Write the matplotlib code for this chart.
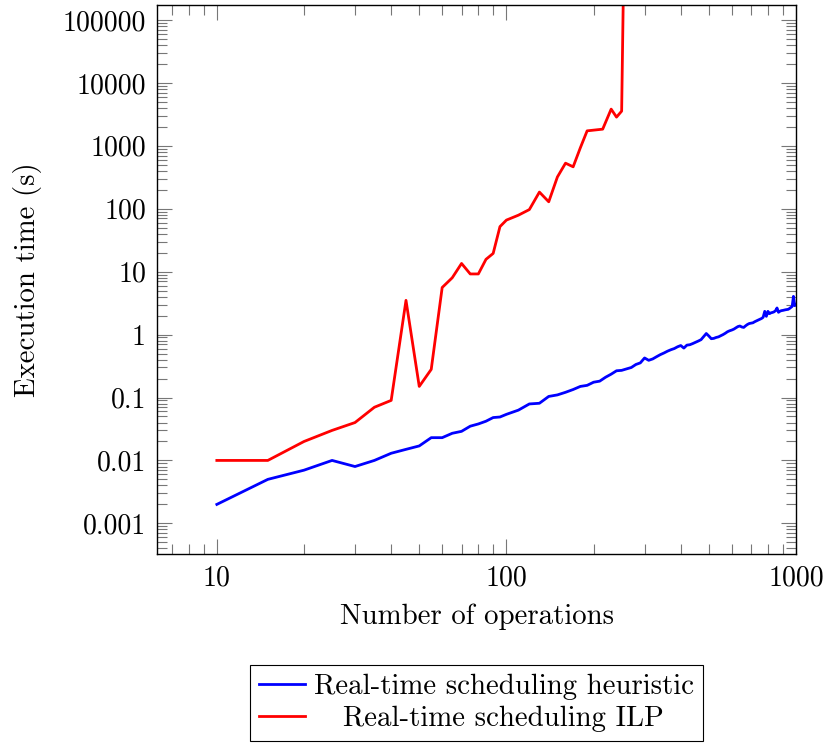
import matplotlib

matplotlib.use("Agg")
import matplotlib.pyplot as plt
import numpy as np
from matplotlib.ticker import FixedLocator, LogLocator, NullFormatter

plt.rcParams["font.family"] = "serif"
plt.rcParams["font.serif"] = ["cmr10", "DejaVu Serif"]
plt.rcParams["axes.formatter.use_mathtext"] = True

# heuristic: number of operations vs execution time (s)
heur_ops = [10, 15, 20, 25, 30, 35, 40, 45, 50, 55, 60, 65, 70, 75, 80, 85, 90, 95,
            100, 110, 120, 130, 140, 150, 160, 170, 180, 190, 200, 210, 220, 230,
            240, 250, 260, 270, 280, 290, 300, 310, 320, 330, 340, 350, 360, 370,
            380, 390, 400, 410, 420, 430, 440, 450, 460, 470, 480, 490, 500, 510,
            520, 530, 540, 550, 560, 570, 580, 590, 600, 610, 620, 630, 640, 650,
            660, 670, 680, 690, 700, 710, 720, 730, 740, 750, 760, 770, 780, 790,
            800, 810, 820, 830, 840, 850, 860, 870, 880, 890, 900, 910, 920, 930,
            940, 950, 960, 970, 980, 990, 1000]
heur_time = [0.002, 0.005, 0.007, 0.010, 0.008, 0.010, 0.013, 0.015, 0.017, 0.023,
             0.023, 0.027, 0.029, 0.035, 0.038, 0.042, 0.048, 0.049,
             0.054, 0.063, 0.079, 0.081, 0.104, 0.110, 0.121, 0.134, 0.150, 0.156,
             0.175, 0.182, 0.210, 0.235, 0.266, 0.270, 0.285, 0.300, 0.335, 0.355,
             0.425, 0.390, 0.410, 0.445, 0.480, 0.510, 0.545, 0.575, 0.600, 0.640,
             0.670, 0.610, 0.680, 0.690, 0.720, 0.755, 0.790, 0.830, 0.930, 1.040,
             0.950, 0.860, 0.870, 0.900, 0.920, 0.960, 1.000, 1.050, 1.110, 1.150,
             1.180, 1.220, 1.280, 1.340, 1.370, 1.320, 1.300, 1.380, 1.450, 1.500,
             1.520, 1.540, 1.600, 1.650, 1.700, 1.750, 1.800, 1.880, 2.340, 1.950,
             2.340, 2.150, 2.220, 2.250, 2.300, 2.400, 2.650, 2.260, 2.350, 2.400,
             2.420, 2.450, 2.480, 2.500, 2.520, 2.600, 2.700, 2.800, 4.050, 2.880,
             3.000]

# ILP: blows up after ~250 operations
ilp_ops = [10, 15, 20, 25, 30, 35, 40, 45, 50, 55, 60, 65, 70, 75, 80, 85, 90, 95,
           100, 110, 120, 130, 140, 150, 160, 170, 180, 190, 215, 230, 240, 250, 260]
ilp_time = [0.01, 0.01, 0.02, 0.03, 0.04, 0.07, 0.09, 3.5, 0.15, 0.28, 5.6, 8.0,
            13.5, 9.2, 9.2, 15.7, 19.5, 52, 66, 79, 97, 184, 129, 320, 530, 464,
            930, 1730, 1840, 3830, 2860, 3560, 1e9]

yticks = [1e-3, 1e-2, 1e-1, 1, 10, 100, 1000, 1e4, 1e5]
ytick_labels = ["0.001", "0.01", "0.1", "1", "10", "100", "1000", "10000", "100000"]
xticks = [10, 100, 1000]
xtick_labels = ["10", "100", "1000"]

fig = plt.figure(figsize=(8.27, 7.47), dpi=100)
ax = fig.add_axes([0.190, 0.2584, 0.7725, 0.7349])

ax.plot(heur_ops, heur_time, color="#0000ff", lw=2.0, label="Real-time scheduling heuristic")
ax.plot(ilp_ops, ilp_time, color="#ff0000", lw=2.0, label="   Real-time scheduling ILP")

ax.set_xscale("log")
ax.set_yscale("log")
ax.set_xlim(6.22, 1000)
ax.set_ylim(3.26e-4, 1.73e5)

ax.yaxis.set_major_locator(FixedLocator(yticks))
ax.set_yticklabels(ytick_labels)
ax.yaxis.set_minor_locator(LogLocator(base=10, subs=np.arange(2, 10), numticks=100))
ax.yaxis.set_minor_formatter(NullFormatter())
ax.xaxis.set_major_locator(FixedLocator(xticks))
ax.set_xticklabels(xtick_labels)
ax.xaxis.set_minor_locator(LogLocator(base=10, subs=np.arange(2, 10), numticks=100))
ax.xaxis.set_minor_formatter(NullFormatter())

ax.tick_params(which="both", direction="in", top=True, right=True,
               color="#777777", labelsize=20, pad=8)
ax.tick_params(which="major", length=11, width=0.8)
ax.tick_params(which="minor", length=7, width=0.8)
for s in ax.spines.values():
    s.set_linewidth(1.0)

ax.set_xlabel("Number of operations", fontsize=20.8, labelpad=8.5)
ax.set_ylabel("Execution time (s)", fontsize=20.8, labelpad=15)

leg = ax.legend(loc="upper center", bbox_to_anchor=(0.5, -0.202), borderaxespad=0,
                fontsize=20.8, frameon=True, fancybox=False, framealpha=1,
                edgecolor="black", handlelength=1.6, handletextpad=0.3,
                labelspacing=0.2, borderpad=0.3)
leg.get_frame().set_linewidth(0.8)

fig.savefig("out.png", dpi=100)
